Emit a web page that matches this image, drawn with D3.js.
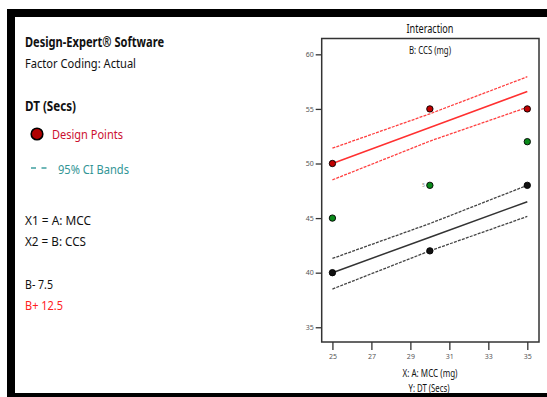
<!DOCTYPE html>
<html>
<head>
<meta charset="utf-8">
<script src="https://cdn.jsdelivr.net/npm/d3@7"></script>
<style>
  body { margin: 0; background: #fff; }
  svg { display: block; font-family: "Noto Sans", sans-serif; }
</style>
</head>
<body>
<script>
// chart values
const mccLevels = [25, 30, 35];
const xTicks = [25, 27, 29, 31, 33, 35];
const yTicks = [35, 40, 45, 50, 55, 60];

// design points
const pointsHigh = [50, 55, 55];     // B+ 12.5
const pointsCenter = [45, 48, 52];   // center points
const pointsLow = [40, 42, 48];      // B- 7.5

// fitted lines and 95% CI bands
const fitHigh = [50, 53.3, 56.6];
const ciHighUpper = [51.4, 54.55, 57.95];
const ciHighLower = [48.5, 52.05, 55.15];
const fitLow = [40, 43.25, 46.5];
const ciLowUpper = [41.3, 44.5, 48.0];
const ciLowLower = [38.5, 42.0, 45.15];

const width = 547, height = 397;

const svg = d3.select("body")
              .append("svg")
              .attr("width", width)
              .attr("height", height);

// black frame
svg.append("rect").attr("x", 7).attr("y", 9).attr("width", width - 7).attr("height", 8).attr("fill", "#000");
svg.append("rect").attr("x", 7).attr("y", 9).attr("width", 8).attr("height", height - 9).attr("fill", "#000");
svg.append("rect").attr("x", 7).attr("y", 393).attr("width", width - 7).attr("height", 4).attr("fill", "#000");

// left side info text
const info = svg.append("g").attr("fill", "#111");

const addText = (txt, x, y, size, len, opts = {}) => {
    return info.append("text")
               .attr("x", x)
               .attr("y", y)
               .attr("font-size", size)
               .attr("font-weight", opts.bold ? "bold" : "normal")
               .attr("fill", opts.color || "#111")
               .attr("textLength", len)
               .attr("lengthAdjust", "spacingAndGlyphs")
               .text(txt);
};

addText("Design-Expert® Software", 25, 47, 14, 139, { bold: true });
addText("Factor Coding: Actual", 25, 68, 13, 111);
addText("DT (Secs)", 25, 111, 14, 51, { bold: true });

info.append("circle")
    .attr("cx", 37).attr("cy", 134).attr("r", 5.8)
    .attr("fill", "#b00000").attr("stroke", "#000").attr("stroke-width", 1.6);
addText("Design Points", 52, 139, 13, 71, { color: "#cc1030" });

info.append("line")
    .attr("x1", 31).attr("x2", 47).attr("y1", 168).attr("y2", 168)
    .attr("stroke", "#40a0a0").attr("stroke-width", 1.6)
    .attr("stroke-dasharray", "5,5.5");
addText("95% CI Bands", 58, 174, 13, 71, { color: "#329595" });

addText("X1 = A: MCC", 25, 225, 13, 66);
addText("X2 = B: CCS", 25, 246, 13, 61);
addText("B- 7.5", 25, 289, 13, 28);
addText("B+ 12.5", 25, 310, 13, 38, { color: "#ff2020" });

// plot area
const plot = { left: 321.7, right: 539, top: 38.5, bottom: 342 };

const x = d3.scaleLinear()
            .domain([24.45, 35.6])
            .range([plot.left, plot.right]);

const y = d3.scaleLinear()
            .domain([33.65, 61.45])
            .range([plot.bottom, plot.top]);

svg.append("text")
   .attr("x", 430).attr("y", 33)
   .attr("text-anchor", "middle")
   .attr("font-size", 12)
   .attr("fill", "#111")
   .attr("textLength", 47).attr("lengthAdjust", "spacingAndGlyphs")
   .text("Interaction");

svg.append("text")
   .attr("x", 430).attr("y", 54)
   .attr("text-anchor", "middle")
   .attr("font-size", 10)
   .attr("fill", "#111")
   .attr("textLength", 42).attr("lengthAdjust", "spacingAndGlyphs")
   .text("B: CCS (mg)");

// axes
const yAxis = svg.append("g")
                 .attr("transform", `translate(${plot.left},0)`)
                 .call(d3.axisLeft(y).tickValues(yTicks).tickSize(6).tickPadding(2));

const xAxis = svg.append("g")
                 .attr("transform", `translate(0,${plot.bottom})`)
                 .call(d3.axisBottom(x).tickValues(xTicks).tickSize(8).tickPadding(4));

[xAxis, yAxis].forEach(ax => {
    ax.select(".domain").remove();
    ax.selectAll("line").attr("stroke", "#333").attr("stroke-width", 1.3);
    ax.selectAll("text").attr("font-size", 7).attr("fill", "#555")
      .attr("font-family", "'Noto Sans', sans-serif");
});

svg.append("text")
   .attr("x", 430).attr("y", 377)
   .attr("text-anchor", "middle")
   .attr("font-size", 11).attr("fill", "#111")
   .attr("textLength", 55).attr("lengthAdjust", "spacingAndGlyphs")
   .text("X: A: MCC (mg)");

svg.append("text")
   .attr("x", 429).attr("y", 391.5)
   .attr("text-anchor", "middle")
   .attr("font-size", 11).attr("fill", "#111")
   .attr("textLength", 41).attr("lengthAdjust", "spacingAndGlyphs")
   .text("Y: DT (Secs)");

// lines
const line = d3.line()
               .x((d, i) => x(mccLevels[i]))
               .y(d => y(d));

const series = [
    { values: fitHigh, color: "#ff3030", dash: null },
    { values: ciHighUpper, color: "#ff4040", dash: "3,1.2" },
    { values: ciHighLower, color: "#ff4040", dash: "3,1.2" },
    { values: fitLow, color: "#333", dash: null },
    { values: ciLowUpper, color: "#444", dash: "3,1.2" },
    { values: ciLowLower, color: "#444", dash: "3,1.2" }
];

svg.append("g")
   .selectAll("path")
   .data(series)
   .enter()
   .append("path")
   .attr("d", d => line(d.values))
   .attr("fill", "none")
   .attr("stroke", d => d.color)
   .attr("stroke-width", d => d.dash ? 1.3 : 1.5)
   .attr("stroke-dasharray", d => d.dash);

// design points
const pointGroups = [
    { values: pointsCenter, fill: "#0a8a1a" },
    { values: pointsLow, fill: "#111" },
    { values: pointsHigh, fill: "#c00000" }
];

pointGroups.forEach(g => {
    svg.append("g")
       .selectAll("circle")
       .data(g.values)
       .enter()
       .append("circle")
       .attr("cx", (d, i) => x(mccLevels[i]))
       .attr("cy", d => y(d))
       .attr("r", 3.2)
       .attr("fill", g.fill)
       .attr("stroke", "#000")
       .attr("stroke-width", 0.9);
});

// replicate count label beside the center point at 30
svg.append("text")
   .attr("x", x(mccLevels[1]) - 5)
   .attr("y", y(pointsCenter[1]) + 2)
   .attr("text-anchor", "end")
   .attr("font-size", 5)
   .attr("fill", "#888")
   .text("5");

// plot frame
svg.append("rect")
   .attr("x", plot.left)
   .attr("y", plot.top)
   .attr("width", plot.right - plot.left)
   .attr("height", plot.bottom - plot.top)
   .attr("fill", "none")
   .attr("stroke", "#333")
   .attr("stroke-width", 1.5);
</script>
</body>
</html>
